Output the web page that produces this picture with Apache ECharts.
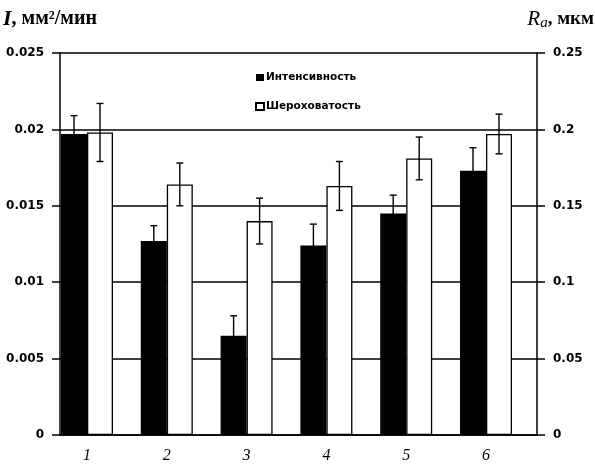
<!DOCTYPE html>
<html>
<head>
<meta charset="utf-8">
<script src="https://cdn.jsdelivr.net/npm/echarts@6/dist/echarts.min.js"></script>
<style>
  html, body { margin: 0; padding: 0; background: #fff; }
  #chart { width: 595px; height: 464px; }
</style>
</head>
<body>
<div id="chart"></div>
<script>
// Sample numbers (x axis labels)
const categories = [1, 2, 3, 4, 5, 6];
// Wear intensity, mm^2/min (left axis)
const intensity = [0.0197, 0.0127, 0.0065, 0.0124, 0.0145, 0.0173];
const intensityErr = [0.0012, 0.0010, 0.0013, 0.0014, 0.0012, 0.0015];
// Surface roughness Ra, um (right axis)
const roughness = [0.198, 0.164, 0.140, 0.163, 0.181, 0.197];
const roughnessErr = [0.019, 0.014, 0.015, 0.016, 0.014, 0.013];

const seriesNames = ['Интенсивность', 'Шероховатость'];

const BAR_W = 26;
const tickFont = { fontFamily: 'DejaVu Sans', fontWeight: 'bold', fontSize: 12, color: '#000' };

// Vertical error bar with caps, shifted to the centre of its bar in the pair
function errorBar(shift) {
  return function (params, api) {
    const x = api.value(0), v = api.value(1), e = api.value(2);
    const hi = api.coord([x, v + e]);
    const lo = api.coord([x, v - e]);
    const cx = hi[0] + shift;
    const cap = 3.5;
    const st = { stroke: '#000', lineWidth: 1.4 };
    return {
      type: 'group',
      children: [
        { type: 'line', shape: { x1: cx, y1: hi[1], x2: cx, y2: lo[1] }, style: st },
        { type: 'line', shape: { x1: cx - cap, y1: hi[1], x2: cx + cap, y2: hi[1] }, style: st },
        { type: 'line', shape: { x1: cx - cap, y1: lo[1], x2: cx + cap, y2: lo[1] }, style: st }
      ]
    };
  };
}

const chart = echarts.init(document.getElementById('chart'), null, { renderer: 'canvas' });

chart.setOption({
  animation: false,
  backgroundColor: '#fff',
  grid: { left: 60, right: 58, top: 53, bottom: 24, containLabel: false },
  legend: {
    data: seriesNames,
    orient: 'vertical',
    left: 250,
    top: 67,
    itemWidth: 8,
    itemHeight: 7,
    itemGap: 18,
    icon: 'rect',
    selectedMode: false,
    textStyle: { fontFamily: 'DejaVu Sans', fontWeight: 'bold', fontSize: 10.5, color: '#000', padding: [0, 0, 0, -3] }
  },
  graphic: [
    {
      type: 'text', left: 3, top: 8,
      style: {
        text: '{i|I}{n|, мм²/мин}',
        rich: {
          i: { fontFamily: 'Liberation Serif', fontStyle: 'italic', fontWeight: 'bold', fontSize: 22, fill: '#000' },
          n: { fontFamily: 'Liberation Serif', fontWeight: 'bold', fontSize: 20, fill: '#000' }
        }
      }
    },
    {
      type: 'text', right: 1, top: 8,
      style: {
        text: '{i|R}{s|a}{n|, мкм}',
        rich: {
          i: { fontFamily: 'Liberation Serif', fontStyle: 'italic', fontSize: 21, fill: '#000', lineHeight: 24 },
          s: { fontFamily: 'Liberation Serif', fontStyle: 'italic', fontSize: 15, fill: '#000', lineHeight: 24, padding: [8, 0, 0, 0] },
          n: { fontFamily: 'Liberation Serif', fontWeight: 'bold', fontSize: 19, fill: '#000', lineHeight: 24 }
        }
      }
    }
  ],
  xAxis: {
    type: 'value',
    min: 0.6617,
    max: 6.639,
    axisLine: { show: true, lineStyle: { color: '#000', width: 1.5 } },
    axisTick: { show: false },
    splitLine: { show: false },
    axisLabel: {
      customValues: categories,
      margin: 13,
      fontFamily: 'Liberation Serif', fontStyle: 'italic', fontSize: 16, color: '#000'
    }
  },
  yAxis: [
    {
      type: 'value', min: 0, max: 0.025, interval: 0.005, position: 'left',
      axisLine: { show: true, lineStyle: { color: '#000', width: 1.5 } },
      axisTick: { show: true, length: 8, lineStyle: { color: '#000', width: 1.5 } },
      axisLabel: Object.assign({ margin: 16 }, tickFont),
      splitLine: { show: true, lineStyle: { color: '#000', width: 1.5 } }
    },
    {
      type: 'value', min: 0, max: 0.25, interval: 0.05, position: 'right',
      axisLine: { show: true, lineStyle: { color: '#000', width: 1.5 } },
      axisTick: { show: true, length: 8, lineStyle: { color: '#000', width: 1.5 } },
      axisLabel: Object.assign({ margin: 16 }, tickFont),
      splitLine: { show: false }
    }
  ],
  series: [
    {
      name: seriesNames[0], type: 'bar', yAxisIndex: 0,
      barWidth: BAR_W, barGap: '0%',
      itemStyle: { color: '#000' },
      data: categories.map((c, i) => [c, intensity[i]])
    },
    {
      name: seriesNames[1], type: 'bar', yAxisIndex: 1,
      barWidth: BAR_W, barGap: '0%',
      itemStyle: { color: '#fff', borderColor: '#000', borderWidth: 1.3 },
      data: categories.map((c, i) => [c, roughness[i]])
    },
    {
      type: 'custom', yAxisIndex: 0, z: 5,
      renderItem: errorBar(-BAR_W / 2),
      data: categories.map((c, i) => [c, intensity[i], intensityErr[i]])
    },
    {
      type: 'custom', yAxisIndex: 1, z: 5,
      renderItem: errorBar(BAR_W / 2),
      data: categories.map((c, i) => [c, roughness[i], roughnessErr[i]])
    }
  ]
});
</script>
</body>
</html>
